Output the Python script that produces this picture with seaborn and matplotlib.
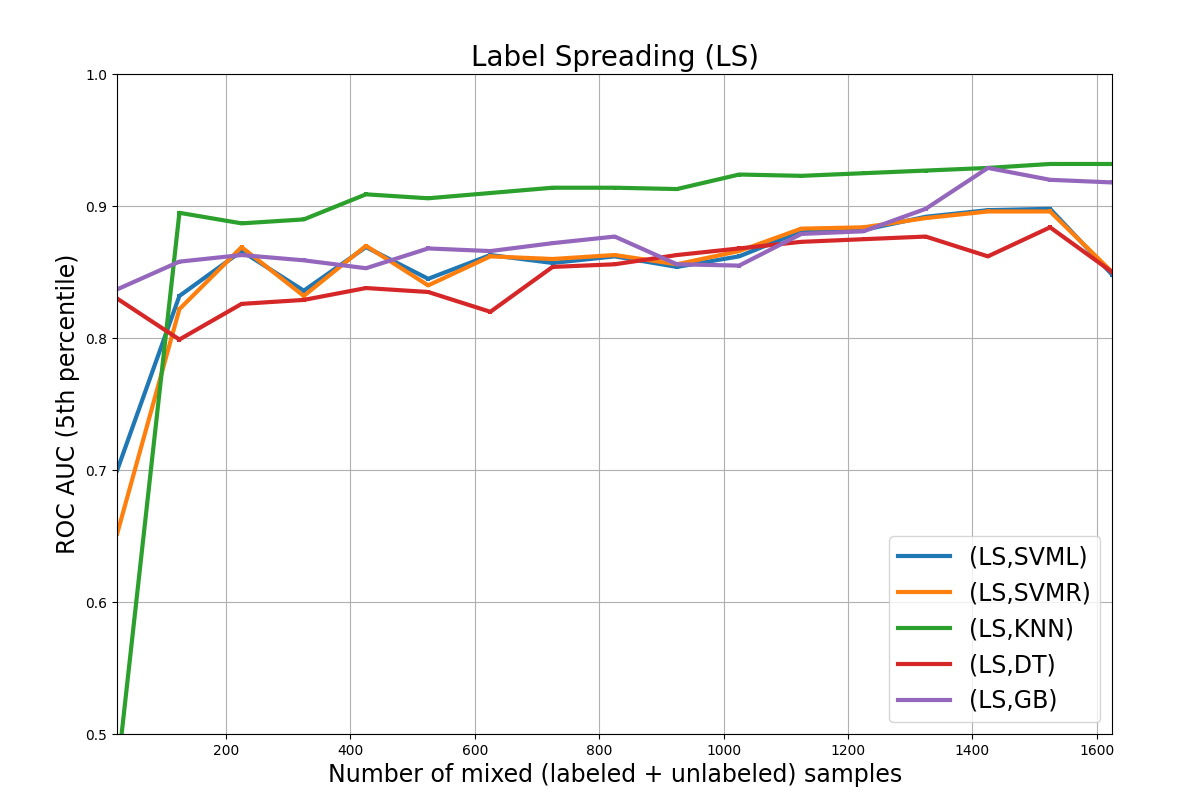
import matplotlib
matplotlib.use("Agg")
import matplotlib.pyplot as plt
import numpy as np
import pandas as pd
import seaborn as sns

samples = [25, 125, 225, 325, 425, 525, 625, 725, 825, 925, 1025, 1125, 1225, 1325, 1425, 1525, 1625]

svml = [0.700, 0.832, 0.866, 0.836, 0.869, 0.845, 0.863, 0.857, 0.862, 0.854, 0.862, 0.881, 0.882, 0.892, 0.897, 0.898, 0.848]
svmr = [0.652, 0.822, 0.869, 0.832, 0.870, 0.840, 0.862, 0.860, 0.863, 0.856, 0.866, 0.883, 0.884, 0.891, 0.896, 0.896, 0.850]
knn = [0.470, 0.895, 0.887, 0.890, 0.909, 0.906, 0.910, 0.914, 0.914, 0.913, 0.924, 0.923, 0.925, 0.927, 0.929, 0.932, 0.932]
dt = [0.830, 0.799, 0.826, 0.829, 0.838, 0.835, 0.820, 0.854, 0.856, 0.863, 0.868, 0.873, 0.875, 0.877, 0.862, 0.884, 0.850]
gb = [0.837, 0.858, 0.863, 0.859, 0.853, 0.868, 0.866, 0.872, 0.877, 0.856, 0.855, 0.879, 0.881, 0.898, 0.929, 0.920, 0.918]

series = {"(LS,SVML)": svml, "(LS,SVMR)": svmr, "(LS,KNN)": knn, "(LS,DT)": dt, "(LS,GB)": gb}

df = pd.concat(
    [pd.DataFrame({"samples": samples, "auc": vals, "method": name}) for name, vals in series.items()],
    ignore_index=True,
)

fig = plt.figure(figsize=(11.96, 7.98), dpi=100)
ax = fig.add_axes([0.098, 0.080, 0.832, 0.827])

sns.lineplot(data=df, x="samples", y="auc", hue="method", palette="tab10",
             marker="s", markersize=3, markeredgewidth=0, linewidth=3, ax=ax)

ax.set_xlim(25, 1625)
ax.set_ylim(0.5, 1.0)
ax.set_yticks([0.5, 0.6, 0.7, 0.8, 0.9, 1.0])
ax.grid(True, color="#b0b0b0", linewidth=0.8)
ax.set_title("Label Spreading (LS)", fontsize=20)
ax.set_xlabel("Number of mixed (labeled + unlabeled) samples", fontsize=17)
ax.set_ylabel("ROC AUC (5th percentile)", fontsize=17)
ax.tick_params(labelsize=10)
ax.legend(title=None, fontsize=17, loc="lower right", handlelength=2.2)

fig.savefig("out.png", dpi=100)
